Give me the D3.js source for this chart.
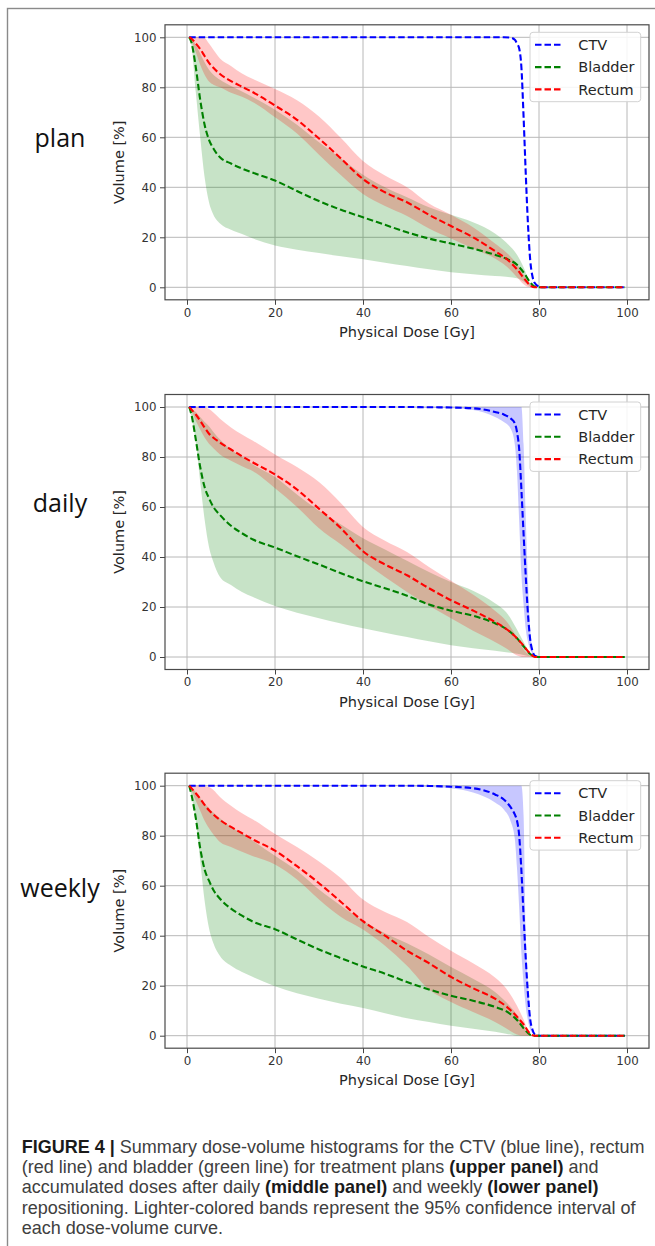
<!DOCTYPE html>
<html>
<head>
<meta charset="utf-8">
<script src="https://cdn.jsdelivr.net/npm/d3@7/dist/d3.min.js"></script>
<style>
  body { margin: 0; background: #fff; }
  svg { display: block; }
</style>
</head>
<body>
<svg id="fig" width="655" height="1246"></svg>
<script>
// dose knots (Gy) shared by the organ curves, and the ones used for the CTV
var organDose = [0.5, 1, 2, 3, 4, 5, 6, 7.5, 10, 12.5, 15, 20, 25, 30, 35, 40, 45, 50, 55, 60, 65, 70, 72.5, 75, 76.5, 78, 79, 80, 90, 99.5];
var ctvDose = [0.5, 40, 50, 55, 60, 65, 70, 72, 73.5, 74.5, 75, 75.5, 76, 76.5, 77, 77.5, 78, 78.5, 79, 80, 81, 99.5];

var panelNames = ["plan", "daily", "weekly"];
var legendLabels = ["CTV", "Bladder", "Rectum"];
var xTicks = [0, 20, 40, 60, 80, 100];
var yTicks = [0, 20, 40, 60, 80, 100];

// plan
var planCtvMean = [100, 100, 100, 100, 100, 100, 100, 100, 99.9, 99, 97.5, 95.5, 88, 68, 45, 25, 11, 4.5, 1.8, 0.3, 0, 0];
var planBladderMean = [100, 98, 88, 75, 65, 59, 55.5, 52, 49.5, 47.5, 45.8, 42.7, 38.5, 34.5, 31, 28, 25, 22, 19.5, 17.5, 15.5, 13, 11.5, 9, 6, 2, 0.3, 0, 0, 0];
var planBladderLow = [100, 97, 78, 60, 44, 34, 29, 25.5, 23, 21.3, 19.5, 16.7, 15, 13.7, 12.4, 11.2, 9.8, 8.5, 7.2, 6, 5.2, 4.5, 4.2, 3.6, 2.3, 0.4, 0, 0, 0, 0];
var planBladderHigh = [100, 99.5, 97, 93.5, 90, 87, 85, 83, 80.5, 78.3, 76, 71, 65, 58, 51.5, 45, 40, 36, 32, 29, 26, 21.5, 18, 13, 8, 1.5, 0.2, 0, 0, 0];
var planRectumMean = [100, 99.5, 97.5, 95.3, 92.5, 89.8, 87.8, 85.3, 82.5, 80.2, 78, 72.7, 67, 59.5, 51.5, 43.3, 38, 34, 29, 24.5, 20, 14.5, 11.5, 7.2, 3.8, 0.8, 0, 0, 0, 0];
var planRectumLow = [100, 98.5, 94, 89, 85, 82.3, 81, 80, 77.8, 76.2, 74, 68, 61.5, 53, 44.8, 37.3, 32.5, 28.5, 23.5, 19.5, 15.5, 11.5, 8.5, 4, 1.2, 0, 0, 0, 0, 0];
var planRectumHigh = [100, 100, 100, 100, 99.7, 97.5, 95, 91.5, 88.5, 85.5, 83.3, 79.3, 74.8, 68.3, 59.7, 50.5, 44.7, 40, 33.5, 29, 24, 17.5, 14, 9.3, 5, 1.3, 0.2, 0, 0, 0];

// daily
var dailyCtvMean = [100, 100, 100, 99.9, 99.8, 99.5, 98, 97, 95.5, 93.5, 90, 83, 67, 49, 32, 17, 7, 2.5, 0.6, 0, 0, 0];
var dailyCtvLow = [100, 100, 99.9, 99.7, 99.5, 98.8, 96, 94, 91.5, 85, 74, 54, 33, 21, 11, 6, 3, 1.5, 0.5, 0, 0, 0];
var dailyCtvHigh = [100, 100, 100, 100, 100, 100, 100, 100, 100, 100, 100, 100, 100, 85, 55, 30, 11, 3.5, 0.8, 0, 0, 0];
var dailyBladderMean = [100, 97, 87, 76, 68, 63.5, 60, 56.8, 52.5, 49.5, 47, 43.8, 40.3, 37, 33.5, 30.3, 27.5, 24.5, 21, 18.5, 16.5, 13.5, 11.3, 7.5, 4.3, 1.2, 0.2, 0, 0, 0];
var dailyBladderLow = [100, 96, 86, 70, 55, 44, 38, 32, 28.8, 26, 24, 20.4, 17.7, 15.5, 13.4, 11.5, 9.7, 8, 6.3, 4.7, 3.5, 2.5, 1.9, 1.3, 0.8, 0.3, 0, 0, 0, 0];
var dailyBladderHigh = [100, 99.3, 98, 96, 94, 92.3, 90, 87, 83, 80, 77, 72, 65, 58.5, 53, 47.5, 43, 38.5, 34, 30, 26.5, 21.5, 18, 11, 6, 1.5, 0.2, 0, 0, 0];
var dailyRectumMean = [100, 99, 97, 94.5, 91.8, 89.3, 87.7, 85.8, 83, 80.3, 77.8, 73, 67, 59.3, 51.5, 42.3, 37, 32.7, 27.5, 22.7, 18.6, 14, 11.3, 7.5, 4.5, 1.3, 0, 0, 0, 0];
var dailyRectumLow = [100, 98.5, 94.5, 91, 87.8, 85.3, 83.5, 81, 78.5, 76.3, 74.3, 67.5, 60, 51.5, 45, 38.3, 32, 26, 20.5, 15.5, 10.5, 6, 3.5, 0.6, 0, 0, 0, 0, 0, 0];
var dailyRectumHigh = [100, 100, 100, 100, 99.8, 99.2, 97.8, 95.3, 91.8, 89, 86.5, 81, 76, 70, 61.5, 52, 46.5, 42, 36, 30.5, 25, 18.5, 14.5, 7.8, 3, 0.5, 0, 0, 0, 0];

// weekly
var weeklyCtvMean = [100, 100, 100, 99.9, 99.6, 99, 96.5, 94.5, 91.5, 88.5, 86, 80, 66, 48, 30.5, 16.5, 6.5, 2.5, 0.6, 0, 0, 0];
var weeklyCtvLow = [100, 100, 99.8, 99.5, 99, 97.3, 93.3, 90.5, 86, 78.7, 67, 51, 33, 21, 11.5, 6, 2.5, 1.2, 0.2, 0, 0, 0];
var weeklyCtvHigh = [100, 100, 100, 100, 100, 100, 100, 100, 100, 100, 100, 100, 100, 88, 40, 21, 8, 1.8, 0.3, 0, 0, 0];
var weeklyBladderMean = [100, 96.5, 87, 75, 66.5, 62, 58.3, 54.8, 50.8, 48, 45.6, 42.6, 38.5, 34.5, 31, 27.7, 24.8, 21.5, 18.5, 16, 14, 11.5, 9.8, 6.3, 3, 0.4, 0, 0, 0, 0];
var weeklyBladderLow = [100, 96, 86, 70, 54, 43, 37, 31.9, 28, 25.5, 23.5, 19.8, 17, 14.8, 12.8, 11.1, 9, 7, 5.5, 4, 2.8, 1.6, 0.8, 0, 0, 0, 0, 0, 0, 0];
var weeklyBladderHigh = [100, 99.3, 97.5, 95, 93, 91, 89.3, 87, 83.5, 81, 78, 72, 66, 58.5, 52, 46, 41, 37, 32.5, 27.5, 22.8, 17.5, 13.5, 8.3, 3.8, 0.2, 0, 0, 0, 0];
var weeklyRectumMean = [100, 99, 97, 94.8, 92.3, 90.2, 88.5, 86.3, 83.5, 81, 78.5, 74, 67.8, 61, 53.5, 45.8, 40, 34, 29, 23.5, 19, 14.8, 11.8, 7.6, 4.5, 0.8, 0, 0, 0, 0];
var weeklyRectumLow = [100, 98.3, 94, 90, 86, 83, 80.5, 77.5, 75.5, 73.6, 71.8, 68.5, 62.5, 54.5, 47.5, 42.5, 36, 28, 18.5, 13.5, 9.5, 5.5, 3, 0.5, 0, 0, 0, 0, 0, 0];
var weeklyRectumHigh = [100, 100, 100, 100, 99.8, 99.5, 98.3, 95.5, 92, 89, 86.5, 80.7, 75.5, 69.7, 63, 54.5, 49.5, 45.5, 39.5, 34, 29, 23.3, 19, 12, 6.5, 0.5, 0, 0, 0, 0];

var captionLines = [
  [["FIGURE 4 | ", true], ["Summary dose-volume histograms for the CTV (blue line), rectum", false]],
  [["(red line) and bladder (green line) for treatment plans ", false], ["(upper panel)", true], [" and", false]],
  [["accumulated doses after daily ", false], ["(middle panel)", true], [" and weekly ", false], ["(lower panel)", true]],
  [["repositioning. Lighter-colored bands represent the 95% confidence interval of", false]],
  [["each dose-volume curve.", false]]
];

var colors = {CTV: "#0000ff", Bladder: "#008000", Rectum: "#ff0000"};

var panels = [
  {name: "plan", top: 24.8, labelY: 146.5, series: [
    {key: "CTV", dose: ctvDose, mean: planCtvMean, low: null, high: null},
    {key: "Bladder", dose: organDose, mean: planBladderMean, low: planBladderLow, high: planBladderHigh},
    {key: "Rectum", dose: organDose, mean: planRectumMean, low: planRectumLow, high: planRectumHigh}]},
  {name: "daily", top: 394.5, labelY: 511.5, series: [
    {key: "CTV", dose: ctvDose, mean: dailyCtvMean, low: dailyCtvLow, high: dailyCtvHigh},
    {key: "Bladder", dose: organDose, mean: dailyBladderMean, low: dailyBladderLow, high: dailyBladderHigh},
    {key: "Rectum", dose: organDose, mean: dailyRectumMean, low: dailyRectumLow, high: dailyRectumHigh}]},
  {name: "weekly", top: 773.2, labelY: 896.5, series: [
    {key: "CTV", dose: ctvDose, mean: weeklyCtvMean, low: weeklyCtvLow, high: weeklyCtvHigh},
    {key: "Bladder", dose: organDose, mean: weeklyBladderMean, low: weeklyBladderLow, high: weeklyBladderHigh},
    {key: "Rectum", dose: organDose, mean: weeklyRectumMean, low: weeklyRectumLow, high: weeklyRectumHigh}]}
];

var left = 165, width = 484, height = 275;

var svg = d3.select("#fig");

// outer frame of the figure
svg.append("rect")
    .attr("x", 7.5).attr("y", 8.5)
    .attr("width", 700).attr("height", 1300)
    .attr("fill", "none").attr("stroke", "#8a8a8a").attr("stroke-width", 1.4);

var x = d3.scaleLinear().domain([-5, 105]).range([0, width]);
var y = d3.scaleLinear().domain([-5, 105]).range([height, 0]);

var line = d3.line()
    .x(function(d) { return x(d[0]); })
    .y(function(d) { return y(d[1]); })
    .curve(d3.curveMonotoneX);

var area = d3.area()
    .x(function(d) { return x(d[0]); })
    .y0(function(d) { return y(d[1]); })
    .y1(function(d) { return y(d[2]); })
    .curve(d3.curveMonotoneX);

panels.forEach(function(p, pi) {
  var g = svg.append("g").attr("transform", "translate(" + left + "," + p.top + ")");

  // grid
  g.append("g").selectAll("line").data(xTicks).enter().append("line")
      .attr("x1", function(d) { return x(d); }).attr("x2", function(d) { return x(d); })
      .attr("y1", 0).attr("y2", height)
      .attr("stroke", "#b8b8b8").attr("stroke-width", 1);
  g.append("g").selectAll("line").data(yTicks).enter().append("line")
      .attr("y1", function(d) { return y(d); }).attr("y2", function(d) { return y(d); })
      .attr("x1", 0).attr("x2", width)
      .attr("stroke", "#b8b8b8").attr("stroke-width", 1);

  // confidence bands
  p.series.forEach(function(s) {
    if (!s.low) return;
    var pts = s.dose.map(function(d, i) { return [d, s.low[i], s.high[i]]; });
    g.append("path").attr("d", area(pts))
        .attr("fill", colors[s.key]).attr("fill-opacity", 0.22).attr("stroke", "none");
  });

  // mean curves
  p.series.forEach(function(s) {
    var pts = s.dose.map(function(d, i) { return [d, s.mean[i]]; });
    g.append("path").attr("d", line(pts))
        .attr("fill", "none").attr("stroke", colors[s.key])
        .attr("stroke-width", 2.1).attr("stroke-dasharray", "6.5,3");
  });

  // axes
  var xa = g.append("g").attr("transform", "translate(0," + height + ")")
      .call(d3.axisBottom(x).tickValues(xTicks).tickSize(5).tickPadding(3.5));
  var ya = g.append("g")
      .call(d3.axisLeft(y).tickValues(yTicks).tickSize(5).tickPadding(3.5));
  [xa, ya].forEach(function(a) {
    a.select(".domain").remove();
    a.selectAll(".tick line").attr("stroke", "#444");
    a.selectAll(".tick text").attr("fill", "#333")
        .style("font-family", "DejaVu Sans").style("font-size", "11.8px");
  });

  g.append("rect").attr("width", width).attr("height", height)
      .attr("fill", "none").attr("stroke", "#4a4a4a").attr("stroke-width", 1.2);

  g.append("text")
      .attr("x", width / 2).attr("y", height + 37)
      .attr("text-anchor", "middle")
      .style("font-family", "DejaVu Sans").style("font-size", "14.5px").attr("fill", "#262626")
      .text("Physical Dose [Gy]");

  g.append("text")
      .attr("transform", "translate(" + (123.5 - left) + "," + (height / 2) + ") rotate(-90)")
      .attr("text-anchor", "middle")
      .style("font-family", "DejaVu Sans").style("font-size", "14.5px").attr("fill", "#262626")
      .text("Volume [%]");

  // legend
  var lg = g.append("g").attr("transform", "translate(" + (530 - left) + ",7.5)");
  lg.append("rect").attr("width", 110.7).attr("height", 69.4).attr("rx", 3)
      .attr("fill", "#fff").attr("fill-opacity", 0.85).attr("stroke", "#d2d2d2");
  legendLabels.forEach(function(name, i) {
    var cy = 12.5 + i * 22.3;
    lg.append("line").attr("x1", 5).attr("x2", 33).attr("y1", cy).attr("y2", cy)
        .attr("stroke", colors[name]).attr("stroke-width", 2.1).attr("stroke-dasharray", "6.5,3");
    lg.append("text").attr("x", 48.3).attr("y", cy).attr("dy", "0.36em")
        .style("font-family", "DejaVu Sans").style("font-size", "14.5px").attr("fill", "#262626")
        .text(name);
  });

  // panel label
  svg.append("text")
      .attr("x", 60).attr("y", p.labelY)
      .attr("text-anchor", "middle")
      .style("font-family", "Open Sans").style("font-size", "25px").attr("fill", "#111")
      .text(panelNames[pi]);
});

// caption
var cap = svg.append("g");
var capTexts = captionLines.map(function(parts, i) {
  var t = cap.append("text")
      .attr("x", 21.7).attr("y", 1152.5 + i * 20.4)
      .style("font-family", "Liberation Sans").style("font-size", "16px");
  parts.forEach(function(pt) {
    t.append("tspan").text(pt[0])
        .attr("fill", pt[1] ? "#1a1a1a" : "#404040")
        .style("font-weight", pt[1] ? "bold" : "normal");
  });
  return t;
});
// fit the widest line to the printed width
var widest = d3.max(capTexts, function(t) { return t.node().getComputedTextLength(); });
var fs = 16 * 623 / widest;
capTexts.forEach(function(t) { t.style("font-size", fs + "px"); });
</script>
</body>
</html>
